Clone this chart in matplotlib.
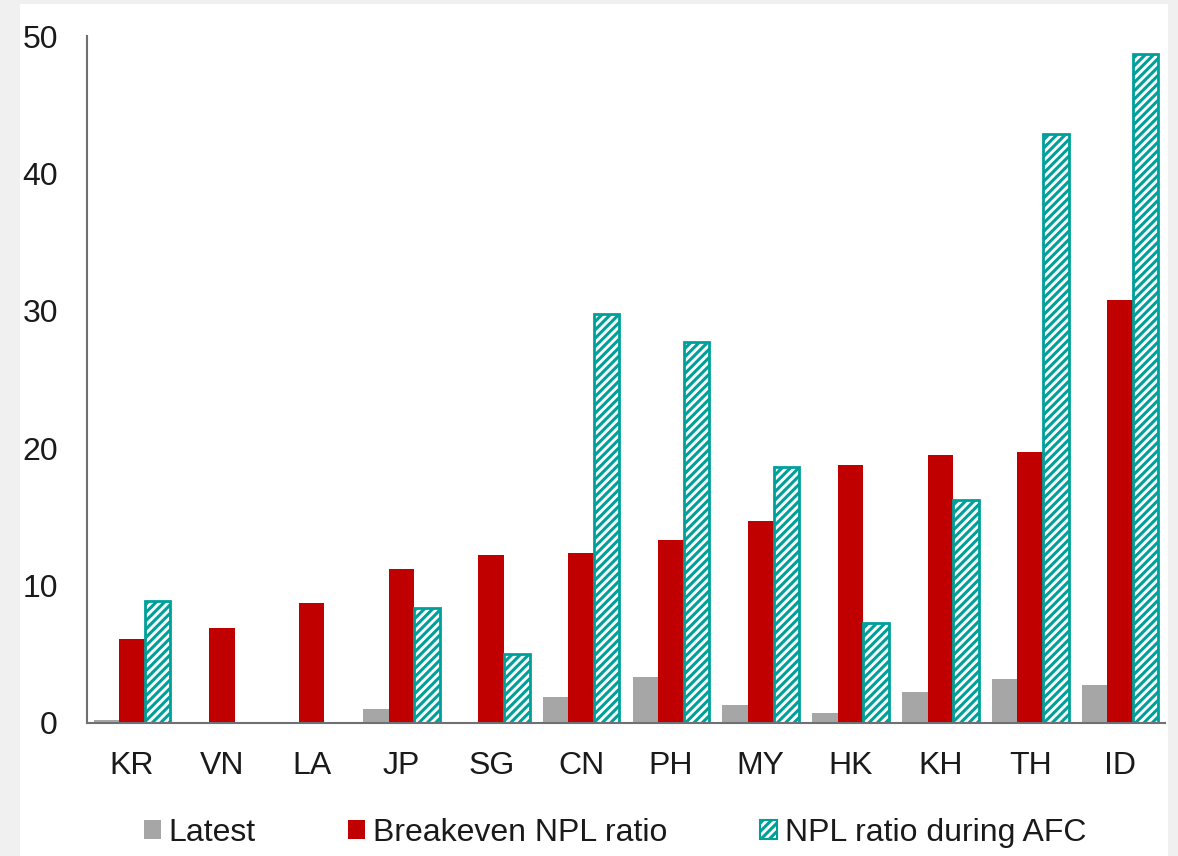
import numpy as np
import matplotlib.pyplot as plt
from matplotlib.patches import Patch, Rectangle

plt.rcParams['font.family'] = ['Liberation Sans', 'DejaVu Sans']
plt.rcParams['hatch.linewidth'] = 2.2

countries = ["KR", "VN", "LA", "JP", "SG", "CN", "PH", "MY", "HK", "KH", "TH", "ID"]
latest = [0.2, 0.0, 0.0, 1.0, 0.0, 1.9, 3.35, 1.3, 0.75, 2.25, 3.2, 2.75]
breakeven = [6.1, 6.9, 8.7, 11.2, 12.2, 12.4, 13.3, 14.7, 18.75, 19.5, 19.7, 30.8]
npl_afc = [8.9, 0.0, 0.0, 8.4, 5.0, 29.8, 27.7, 18.6, 7.3, 16.2, 42.9, 48.7]

grey = "#a6a6a6"
red = "#c00000"
teal = "#00a09a"
fs = 23

fig = plt.figure(figsize=(11.78, 8.56), dpi=100, facecolor="#f0f0f0")
# white chart area behind everything
fig.patches.append(Rectangle((20 / 1178, 0), 1148 / 1178, 852 / 856,
                             transform=fig.transFigure, facecolor="white",
                             edgecolor="none", zorder=-10))

ax = fig.add_axes([87 / 1178, 133 / 856, 1078 / 1178, 687 / 856])
ax.set_facecolor("white")

x = np.arange(len(countries))
w = 0.285
ax.bar(x - w, latest, w, color=grey, edgecolor="none")
ax.bar(x, breakeven, w, color=red, edgecolor="none")
ax.bar(x + w, npl_afc, w, facecolor="white", edgecolor=teal, hatch="////", linewidth=2.0)

ax.set_xlim(-0.5, len(countries) - 0.5)
ax.set_ylim(0, 50)
ax.set_yticks(range(0, 51, 10))
ax.set_xticks(x)
ax.set_xticklabels(countries)
ax.tick_params(axis="both", length=0, labelsize=fs, labelcolor="#1a1a1a")
ax.tick_params(axis="y", pad=21)
ax.tick_params(axis="x", pad=20)
for s in ["top", "right"]:
    ax.spines[s].set_visible(False)
for s in ["left", "bottom"]:
    ax.spines[s].set_color("#6e7074")
    ax.spines[s].set_linewidth(1.5)

handles = [
    Patch(facecolor=grey, edgecolor="none", label="Latest"),
    Patch(facecolor=red, edgecolor="none", label="Breakeven NPL ratio"),
    Patch(facecolor="white", edgecolor=teal, hatch="////", linewidth=1.5,
          label="NPL ratio during AFC"),
]
fig.legend(handles=handles, loc="center", bbox_to_anchor=(615 / 1178, 23 / 856),
           ncol=3, frameon=False, fontsize=fs, handlelength=0.52, handleheight=0.52,
           handletextpad=0.25, columnspacing=2.9, labelcolor="#1a1a1a")

fig.savefig("out.png", dpi=100, facecolor=fig.get_facecolor())
